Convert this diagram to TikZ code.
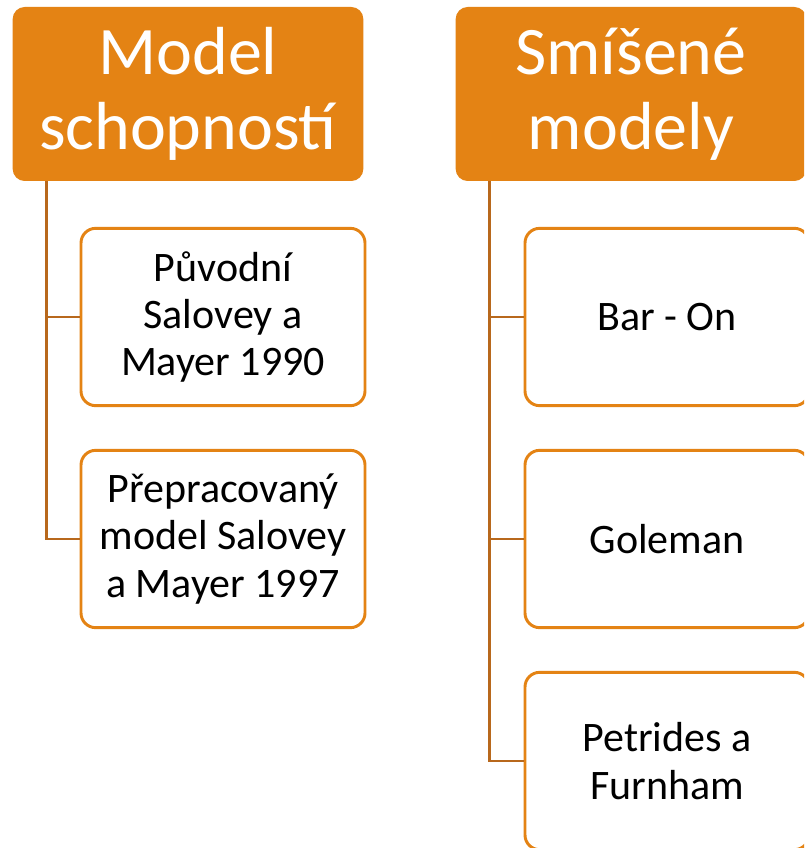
\documentclass[tikz,border=0pt]{standalone}
\usepackage{fontspec}
\setmainfont{Carlito}
\usepackage{xcolor}
\usetikzlibrary{positioning}
\definecolor{oranzova}{RGB}{228,131,20}
\definecolor{linka}{RGB}{184,104,28}
\begin{document}
\begin{tikzpicture}[
    x=0.75pt, y=-0.75pt,
    head/.style={rectangle, rounded corners=9pt, fill=oranzova, text=white, minimum width=263pt, minimum height=130.5pt, align=center, inner sep=0pt, font=\fontsize{51}{56.5}\selectfont},
    box/.style={rectangle, draw=oranzova, line width=2.2pt, rounded corners=11pt, fill=white, minimum width=213pt, minimum height=133pt, align=center, inner sep=0pt, font=\fontsize{31.5}{35.5}\selectfont},
    conn/.style={draw=linka, line width=2.2pt}
]
\clip (0,0) rectangle (804,848);
\fill[white] (0,0) rectangle (804,848);

\node[head] (schopnosti) at (188,94) {Model\\schopností};
\node[head] (smisene) at (631,94) {Smíšené\\modely};

\node[box] (puvodni) at (223,317) {Původní\\Salovey a\\Mayer 1990};
\node[box] (prepracovany) at (223,539) {Přepracovaný\\model Salovey\\a Mayer 1997};

\node[box] (baron) at (667,317) {Bar - On};
\node[box] (goleman) at (667,539) {Goleman};
\node[box] (petrides) at (667,761) {Petrides a\\Furnham};

\draw[conn] ([xshift=25.5pt]schopnosti.south west) |- (puvodni.west);
\draw[conn] ([xshift=25.5pt]schopnosti.south west) |- (prepracovany.west);
\draw[conn] ([xshift=25.5pt]smisene.south west) |- (baron.west);
\draw[conn] ([xshift=25.5pt]smisene.south west) |- (goleman.west);
\draw[conn] ([xshift=25.5pt]smisene.south west) |- (petrides.west);

\end{tikzpicture}
\end{document}
